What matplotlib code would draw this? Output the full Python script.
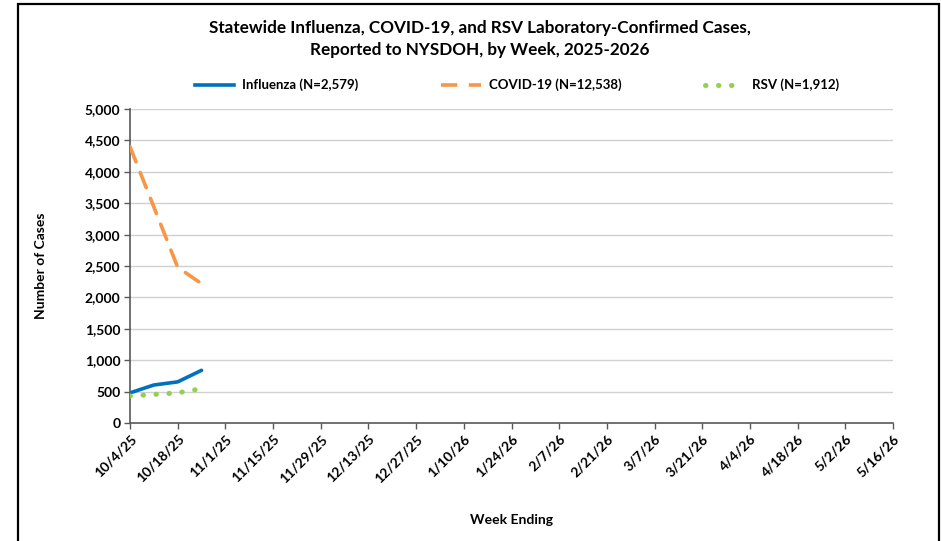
import matplotlib
matplotlib.use("Agg")
import matplotlib.pyplot as plt
from matplotlib.patches import Rectangle
from matplotlib.lines import Line2D
from matplotlib.ticker import FuncFormatter, MultipleLocator

plt.rcParams['font.family'] = ['Lato', 'DejaVu Sans']

tick_labels = ["10/4/25", "10/18/25", "11/1/25", "11/15/25", "11/29/25", "12/13/25",
               "12/27/25", "1/10/26", "1/24/26", "2/7/26", "2/21/26", "3/7/26",
               "3/21/26", "4/4/26", "4/18/26", "5/2/26", "5/16/26"]
n_weeks = 33
influenza = [480, 605, 655, 839]
covid = [4400, 3440, 2480, 2218]
rsv = [430, 455, 480, 547]

fig = plt.figure(figsize=(9.42, 5.41), dpi=100)
ax = fig.add_axes([130/942, 1-423/541, (893-130)/942, (423-109)/541])

rsv_dash = (0.1, 2.5)
ax.plot(list(range(len(influenza))), influenza, color='#0070C0', lw=2.6,
        solid_capstyle='round', zorder=3)
ax.plot(list(range(len(covid))), covid, color='#F79646', lw=2.6,
        dashes=(4.5, 3.2), dash_capstyle='round', zorder=3)
ax.plot(list(range(len(rsv))), rsv, color='#92D050', lw=3.6,
        dashes=rsv_dash, dash_capstyle='round', zorder=3)

ax.set_xlim(0, n_weeks - 1)
ax.set_ylim(0, 5000)
ax.set_xticks(list(range(0, n_weeks, 2)))
ax.set_xticklabels(tick_labels, rotation=45, ha='right', rotation_mode='anchor',
                   fontsize=10, fontweight='bold')
ax.yaxis.set_major_locator(MultipleLocator(500))
ax.yaxis.set_major_formatter(FuncFormatter(lambda v, p: f"{int(v):,}"))
for lab in ax.get_yticklabels():
    lab.set_fontweight('bold')
    lab.set_fontsize(10)
ax.tick_params(axis='both', direction='out', length=4, width=1, color='#595959', pad=3)
ax.grid(axis='y', color='#d0d0d0', lw=1)
ax.set_axisbelow(True)
for s in ['top', 'right']:
    ax.spines[s].set_visible(False)
for s in ['left', 'bottom']:
    ax.spines[s].set_color('#595959')
    ax.spines[s].set_linewidth(1.2)

ax.set_ylabel("Number of Cases", fontsize=10, fontweight='bold', labelpad=27)
ax.set_xlabel("Week Ending", fontsize=10, fontweight='bold', labelpad=21)

fig.text(480/942, 1-28/541, "Statewide Influenza, COVID-19, and RSV Laboratory-Confirmed Cases,",
         ha='center', va='center', fontsize=12.3, fontweight='bold')
fig.text(480/942, 1-50/541, "Reported to NYSDOH, by Week, 2025-2026",
         ha='center', va='center', fontsize=12.3, fontweight='bold')

handles = [
    Line2D([0], [0], color='#0070C0', lw=2.6),
    Line2D([0], [0], color='#F79646', lw=2.6, dashes=(4.5, 3.2)),
    Line2D([0], [0], color='#92D050', lw=3.6, dashes=rsv_dash, dash_capstyle='round'),
]
labels = ["Influenza (N=2,579)", "COVID-19 (N=12,538)", "RSV (N=1,912)"]
leg = fig.legend(handles, labels, loc='center', bbox_to_anchor=(517/942, 1-85/541), ncol=3,
                 frameon=False, columnspacing=6.3, handlelength=3.0, handletextpad=0.6,
                 prop={'weight': 'bold', 'size': 9.5})

fig.patches.append(Rectangle((18/942, -0.05), (939-18)/942, 1.05 - 4/541,
                             transform=fig.transFigure, fill=False,
                             edgecolor='black', lw=1.6))

fig.savefig("out.png", dpi=100)
